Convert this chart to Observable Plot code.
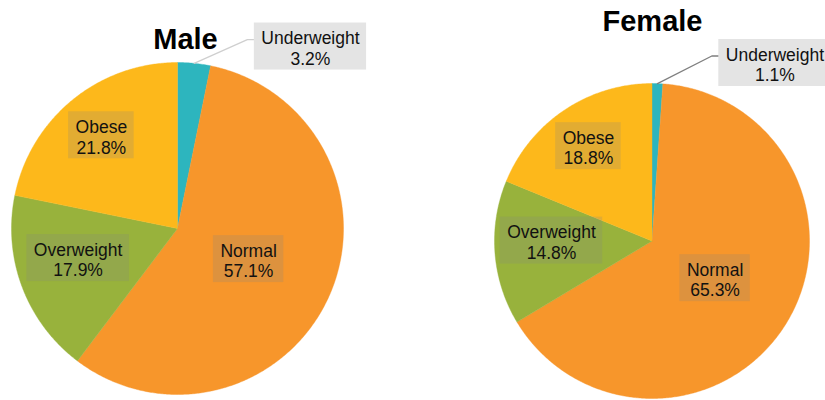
<!DOCTYPE html>
<html><head><meta charset="utf-8">
<script src="https://cdn.jsdelivr.net/npm/d3@7"></script>
<script src="https://cdn.jsdelivr.net/npm/@observablehq/plot@0.6"></script>
<style>html,body{margin:0;padding:0;background:#fff;overflow:hidden}</style>
</head><body><div id="chart"></div>
<script>
// ---- data ----
const categories = ["Underweight", "Normal", "Overweight", "Obese"];
const maleShares = [3.2, 57.1, 17.9, 21.8];
const femaleShares = [1.1, 65.3, 14.8, 18.8];
const panelTitles = ["Male", "Female"];

// ---- styles / layout ----
const sliceColors = {Underweight: "#2db5be", Normal: "#f7962b", Overweight: "#98b23c", Obese: "#fdb81b"};
const layout = [
  {cx: 177, cy: 228, r: 166, titleX: 185, titleY: 39.7, outDx: 116.3, outDy: -16.8, leader: "#cfcfcf"},
  {cx: 651.5, cy: 240.5, r: 157.5, titleX: 652, titleY: 21.7, outDx: 117.5, outDy: -20.6, leader: "#7f7f7f"}
];
const labelPlace = {Normal: {f: 0.47, dy: 0}, Overweight: {f: 0.64, dy: -6.5}, Obese: {f: 0.725, dy: 1.5}};
const FONT = "'Liberation Sans', Arial, Helvetica, sans-serif";
const LABEL_SIZE = 17.5;
const LINE_H = 20.5;

const ctx = document.createElement("canvas").getContext("2d");
ctx.font = `${LABEL_SIZE}px ${FONT}`;
const measure = s => ctx.measureText(s).width;

const series = [maleShares, femaleShares];
const slices = [], labels = [], leaders = [], titles = [];
series.forEach((vals, p) => {
  const L = layout[p];
  titles.push({text: panelTitles[p], x: L.titleX, y: L.titleY});
  const total = d3.sum(vals);
  const pt = (a, rr = L.r) => [L.cx + rr * Math.sin(a), L.cy - rr * Math.cos(a)];
  let acc = 0;
  vals.forEach((v, i) => {
    const cat = categories[i];
    const fill = sliceColors[cat];
    const a0 = acc / total * 2 * Math.PI; acc += v; const a1 = acc / total * 2 * Math.PI;
    const key = panelTitles[p] + "-" + cat;
    slices.push({key, x: L.cx, y: L.cy, fill});
    const n = Math.max(2, Math.ceil((a1 - a0) / (Math.PI / 360)));
    for (let k = 0; k <= n; k++) { const [x, y] = pt(a0 + (a1 - a0) * k / n); slices.push({key, x, y, fill}); }
    slices.push({key, x: L.cx, y: L.cy, fill});
    const am = (a0 + a1) / 2;
    const pct = v.toFixed(1) + "%";
    const w = Math.max(measure(cat), measure(pct)) + 14;
    let lx, ly, boxC, outside = false;
    if (cat === "Underweight") {
      outside = true;
      const [ax, ay] = pt(am);
      lx = ax + L.outDx; boxC = ay + L.outDy; ly = boxC + 1.5;
      const left = lx - w / 2;
      leaders.push({key, x: ax, y: ay, c: L.leader});
      leaders.push({key, x: left - 7, y: boxC - 7, c: L.leader});
      leaders.push({key, x: left, y: boxC - 7, c: L.leader});
    } else {
      const lp = labelPlace[cat];
      [lx, ly] = pt(am, lp.f * L.r); ly += lp.dy; boxC = ly - 1.5;
    }
    labels.push({text: `${cat}\n${pct}`, x: lx, y: ly, x1: lx - w / 2, x2: lx + w / 2, y1: boxC - 23.5, y2: boxC + 23.5, outside});
  });
});

const chart = Plot.plot({
  width: 825, height: 400, margin: 0,
  x: {domain: [0, 825], range: [0, 825], axis: null},
  y: {domain: [0, 400], range: [0, 400], axis: null},
  color: {type: "identity"},
  style: {fontFamily: FONT, background: "white", overflow: "hidden"},
  marks: [
    Plot.line(slices, {x: "x", y: "y", z: "key", fill: "fill", stroke: "fill", strokeWidth: 0.4}),
    Plot.line(leaders, {x: "x", y: "y", z: "key", stroke: "c", strokeWidth: 1.3}),
    Plot.rect(labels.filter(d => d.outside), {x1: "x1", x2: "x2", y1: "y1", y2: "y2", fill: "#e4e4e4"}),
    Plot.rect(labels.filter(d => !d.outside), {x1: "x1", x2: "x2", y1: "y1", y2: "y2", fill: "#858585", fillOpacity: 0.22}),
    Plot.text(labels, {x: "x", y: "y", text: "text", fontSize: LABEL_SIZE, lineHeight: LINE_H / LABEL_SIZE, fill: "#111", textAnchor: "middle", lineAnchor: "middle"}),
    Plot.text(titles, {x: "x", y: "y", text: "text", fontSize: 29, fontWeight: "bold", fill: "#000", textAnchor: "middle", lineAnchor: "middle"})
  ]
});
document.getElementById("chart").append(chart);
</script>
</body></html>
